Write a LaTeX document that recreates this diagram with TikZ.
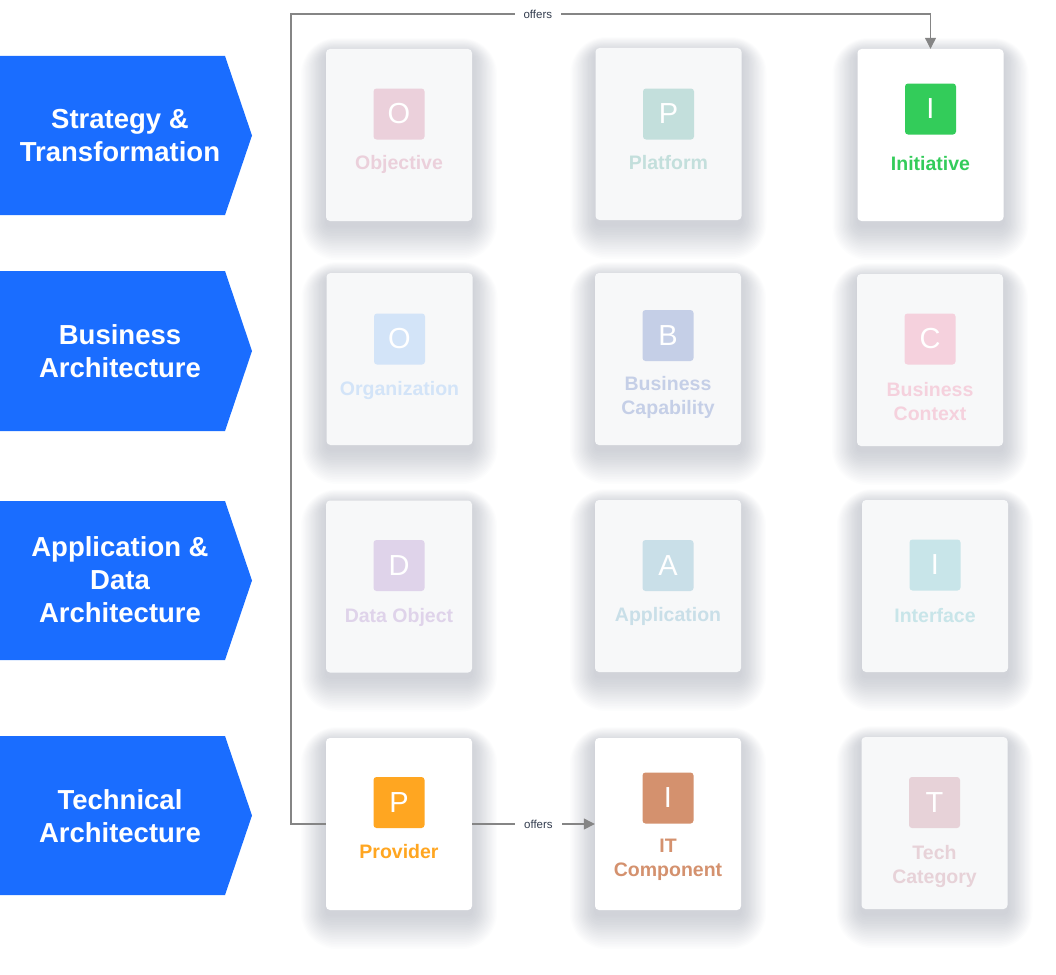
\documentclass[tikz,border=0pt]{standalone}
\usepackage{fontspec}
\setmainfont{Liberation Sans}
\usetikzlibrary{arrows.meta}
\definecolor{chev}{HTML}{1A6DFF}
\definecolor{fadebg}{HTML}{F7F8F9}
\definecolor{shadowc}{HTML}{2A3550}
\definecolor{conngray}{HTML}{858585}
\definecolor{lbltext}{HTML}{333D4F}
\definecolor{cobj}{HTML}{EBD0DB}
\definecolor{cplat}{HTML}{C3DFDC}
\definecolor{corg}{HTML}{D3E4F8}
\definecolor{cbcap}{HTML}{C5CFE7}
\definecolor{cbctx}{HTML}{F5D1DD}
\definecolor{cdata}{HTML}{DFD3EA}
\definecolor{capp}{HTML}{C9DFE8}
\definecolor{cintf}{HTML}{C8E5E9}
\definecolor{ctech}{HTML}{E7D2D8}
\definecolor{cinit}{HTML}{33CC5A}
\definecolor{cprov}{HTML}{FFA621}
\definecolor{citc}{HTML}{D4916E}
\tikzset{
  chevron/.style={fill=chev},
  chevtext/.style={text=white, font=\bfseries\fontsize{27.5}{33}\selectfont, align=center, inner sep=0pt},
  card/.style={rectangle, rounded corners=4pt, minimum width=146pt, minimum height=172pt, inner sep=0pt},
  fadedcard/.style={card, fill=fadebg},
  activecard/.style={card, fill=white},
  iconbox/.style={rectangle, rounded corners=3pt, minimum size=51pt, inner sep=0pt, text=white, font=\fontsize{29}{29}\selectfont},
  clabel/.style={font=\bfseries\fontsize{19.5}{24}\selectfont, align=center, inner sep=0pt},
  conn/.style={draw=conngray, line width=1.2pt},
  arr/.style={-{Triangle[length=11pt,width=11pt]}},
  lbl/.style={fill=white, text=lbltext, font=\fontsize{11.5}{13}\selectfont, inner xsep=9pt, inner ysep=2pt},
}
% #1 name, #2 x, #3 y, #4 card style, #5 colour, #6 letter, #7 label, #8 icon dy, #9 label dy
\newcommand\mkcard[9]{%
  \begin{scope}[shift={(#2,#3)}]
    \foreach \k [evaluate=\k as \rr using 4+1.6*\k, evaluate=\k as \ee using 1.25*\k, evaluate=\k as \oo using 5+0.45*\k] in {1,...,20}{%
      \fill[shadowc, opacity=0.011, rounded corners=\rr pt]
        ({-73-\ee},{-86-\ee+\oo}) rectangle ({73+\ee},{86+\ee+\oo});}
    \node[#4] (#1) at (0,0) {};
    \node[iconbox, fill=#5] (#1-icon) at (0,#8) {#6};
    \node[clabel, text=#5] (#1-label) at (0,#9) {#7};
  \end{scope}}
\begin{document}
\begin{tikzpicture}[x=1pt,y=-1pt]
\useasboundingbox (0,0) rectangle (1056,974);
% chevrons
\fill[chevron] (0,56) -- (225,56) -- (252,135.5) -- (225,215) -- (0,215) -- cycle;
\node[chevtext] (strat) at (120,136) {Strategy \&\\Transformation};
\fill[chevron] (0,271) -- (225,271) -- (252,351) -- (225,431) -- (0,431) -- cycle;
\node[chevtext] (busarch) at (120,351.5) {Business\\Architecture};
\fill[chevron] (0,501) -- (225,501) -- (252,580.5) -- (225,660) -- (0,660) -- cycle;
\node[chevtext] (apparch) at (120,580) {Application \&\\Data\\Architecture};
\fill[chevron] (0,736) -- (225,736) -- (252,815.5) -- (225,895) -- (0,895) -- cycle;
\node[chevtext] (techarch) at (120,816) {Technical\\Architecture};
% cards
\mkcard{obj}{399}{135}{fadedcard}{cobj}{O}{Objective}{-21}{29}
\mkcard{plat}{668.5}{134}{fadedcard}{cplat}{P}{Platform}{-20}{29}
\mkcard{init}{930.5}{135}{activecard}{cinit}{I}{Initiative}{-26}{28.5}
\mkcard{org}{399.5}{359}{fadedcard}{corg}{O}{Organization}{-20}{31}
\mkcard{bcap}{668}{359}{fadedcard}{cbcap}{B}{Business\\Capability}{-23.5}{38}
\mkcard{bctx}{930}{360}{fadedcard}{cbctx}{C}{Business\\Context}{-21}{42}
\mkcard{dobj}{399}{586.5}{fadedcard}{cdata}{D}{Data Object}{-21}{30.5}
\mkcard{app}{668}{586}{fadedcard}{capp}{A}{Application}{-20.5}{30}
\mkcard{intf}{935}{586}{fadedcard}{cintf}{I}{Interface}{-21}{30}
\mkcard{prov}{399}{824}{activecard}{cprov}{P}{Provider}{-21.5}{28}
\mkcard{itc}{668}{824}{activecard}{citc}{I}{IT\\Component}{-26}{36}
\mkcard{tcat}{934.5}{823}{fadedcard}{ctech}{T}{Tech\\Category}{-20.5}{43}
% connectors
\coordinate (bendA) at (291,14);
\coordinate (bendB) at (init.north |- bendA);
\draw[conn,arr] (prov.west) -| (bendA) -- node[lbl,pos=0.386] (lblA) {offers} (bendB) -- (init.north);
\draw[conn,arr] (prov.east) -- node[lbl,pos=0.54] (lblB) {offers} (itc.west);
\end{tikzpicture}
\end{document}
